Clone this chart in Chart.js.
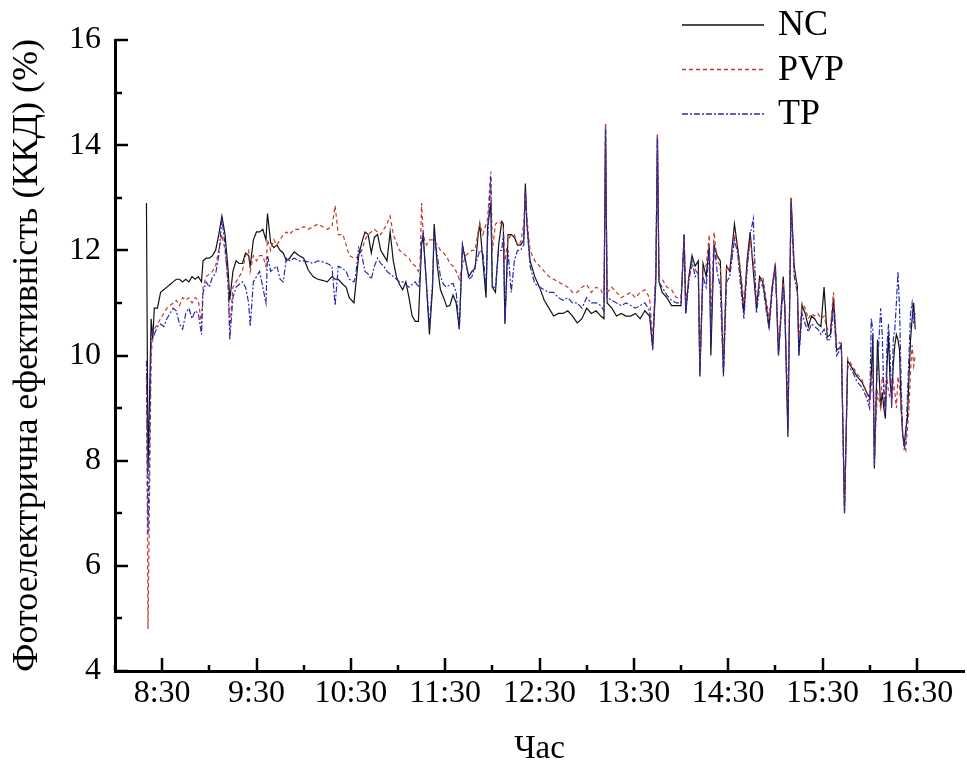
<!DOCTYPE html>
<html>
<head>
<meta charset="utf-8">
<script src="https://cdn.jsdelivr.net/npm/chart.js@4.4.1/dist/chart.umd.min.js"></script>
<style>
  html, body { margin: 0; padding: 0; background: #fff; }
</style>
</head>
<body>
<canvas id="chart" width="967" height="775"></canvas>
<script>
// measurement times (hh:mm)
const times = [
  '8:20','8:21','8:23','8:24','8:25','8:27','8:29','8:31','8:33','8:35','8:37','8:39','8:41','8:43','8:45','8:47','8:49','8:51','8:53','8:55','8:56','8:58',
  '9:00','9:02','9:04','9:06','9:08','9:10','9:12','9:13','9:15','9:17','9:19','9:21','9:23','9:25','9:26','9:28','9:30','9:32','9:34','9:36','9:37','9:39','9:41','9:43','9:45','9:47','9:49','9:51','9:54','9:57',
  '10:00','10:03','10:06','10:09','10:12','10:15','10:18','10:20','10:22','10:25','10:27','10:29','10:32','10:33','10:35','10:37','10:39','10:41','10:43','10:45','10:47','10:49','10:51','10:53','10:55','10:57','10:59',
  '11:01','11:03','11:05','11:07','11:09','11:11','11:13','11:14','11:15','11:16','11:18','11:20','11:22','11:23','11:25','11:27','11:29','11:31','11:33','11:35','11:37','11:39','11:41','11:43','11:45','11:47','11:49','11:51','11:52','11:54','11:56','11:57','11:59','12:00',
  '12:02','12:04','12:06','12:07','12:08','12:10','12:12','12:14','12:16','12:18','12:20','12:21','12:22','12:24','12:27','12:30','12:33','12:36','12:39','12:42','12:45','12:48','12:51','12:54','12:57','13:00',
  '13:03','13:06','13:09','13:11','13:12','13:13','13:16','13:19','13:22','13:25','13:28','13:31','13:34','13:37','13:40','13:42','13:44','13:45','13:46','13:48','13:51','13:54','13:57','14:00',
  '14:02','14:03','14:05','14:07','14:09','14:11','14:12','14:14','14:16','14:18','14:19','14:21','14:23','14:25','14:27','14:29','14:31','14:34','14:36','14:38','14:40','14:42','14:44','14:46','14:48','14:50','14:52','14:54','14:56','14:58','15:00',
  '15:02','15:05','15:06','15:08','15:10','15:12','15:14','15:15','15:17','15:19','15:21','15:23','15:25','15:27','15:29','15:31','15:33','15:35','15:37','15:39','15:41','15:42','15:44','15:46','15:49','15:52','15:55','15:58','16:00','16:01',
  '16:02','16:03','16:04','16:05','16:07','16:08','16:09','16:10','16:11','16:12','16:13','16:14','16:15','16:16','16:17','16:18','16:19','16:20','16:21','16:22','16:23','16:24','16:25','16:26','16:27','16:28','16:29'
];

const nc = [
  12.9,7.8,10.7,10.3,10.9,10.9,11.2,11.25,11.3,11.35,11.4,11.45,11.45,11.4,11.45,11.4,11.5,11.45,11.5,11.4,11.8,11.85,
  11.85,11.9,12.0,12.3,12.65,12.3,11.6,11.05,11.6,11.8,11.75,11.75,11.95,11.9,11.7,12.2,12.35,12.35,12.4,12.2,12.7,12.15,12.05,12.1,12.0,11.95,11.8,11.85,11.97,11.9,
  11.85,11.62,11.5,11.45,11.43,11.4,11.5,11.45,11.45,11.35,11.3,11.1,11.0,11.3,11.9,12.15,12.35,12.3,11.95,12.25,12.3,12.0,11.9,11.8,12.35,11.8,11.5,
  11.35,11.25,11.4,11.1,10.75,10.65,10.65,11.4,12.1,12.3,11.4,10.4,11.3,12.5,11.7,11.25,11.1,10.93,10.95,11.15,11.0,10.5,12.1,11.8,11.5,11.6,11.65,12.3,12.5,11.8,11.1,12.45,12.9,11.3,
  11.2,12.1,12.55,12.5,10.6,12.3,12.3,12.25,12.1,12.1,12.2,13.27,12.5,11.8,11.5,11.3,11.05,10.9,10.75,10.8,10.8,10.85,10.75,10.62,10.7,10.9,
  10.8,10.85,10.75,10.7,14.4,11.0,10.9,10.75,10.8,10.75,10.75,10.8,10.7,10.85,10.75,10.15,11.4,14.2,11.4,11.2,11.1,10.95,10.95,10.95,
  12.3,10.8,11.5,11.9,11.7,11.8,9.6,11.75,11.5,12.1,10.0,12.1,11.9,11.8,9.65,11.7,11.6,12.5,12.05,11.5,10.8,11.8,12.35,11.6,10.9,11.5,11.4,11.0,10.55,11.3,11.75,
  10.0,11.5,10.95,8.45,13.0,11.7,11.3,10.0,10.95,10.8,10.55,10.75,10.7,10.6,10.55,11.3,10.35,10.4,11.1,10.1,10.15,10.2,7.0,9.9,9.75,9.6,9.5,9.3,9.2,9.6,
  10.4,7.85,9.0,10.3,9.0,9.3,9.0,8.8,9.8,10.4,9.5,9.2,9.8,10.2,10.4,10.3,10.1,9.0,8.5,8.3,8.6,8.8,9.6,10.3,10.7,11.0,10.5
];

const pvp = [
  9.6,4.8,10.0,10.4,10.5,10.6,10.7,10.8,10.9,10.95,11.0,11.05,10.95,11.1,11.05,11.1,11.0,11.1,11.05,10.6,11.3,11.5,
  11.55,11.6,11.7,12.0,12.3,12.0,11.4,10.5,11.3,11.4,11.5,11.6,11.9,12.0,11.6,11.9,11.8,11.9,11.9,11.7,12.2,12.0,12.2,12.1,12.2,12.3,12.35,12.3,12.4,12.4,
  12.45,12.4,12.45,12.5,12.45,12.4,12.45,12.85,12.3,12.3,12.1,11.9,11.85,11.85,11.9,12.0,12.2,12.3,12.35,12.4,12.35,12.3,12.4,12.5,12.65,12.3,12.15,
  12.0,11.95,11.9,11.85,11.75,11.7,11.6,11.7,12.9,12.3,12.1,12.2,12.2,12.2,12.1,12.0,11.95,11.88,11.75,11.7,11.6,11.45,11.7,11.9,11.95,12.0,12.0,12.35,12.5,12.3,12.5,12.6,13.5,12.0,
  12.5,12.55,12.5,12.45,11.8,12.2,12.3,12.3,12.1,12.15,12.5,13.1,12.6,12.0,11.8,11.7,11.6,11.5,11.45,11.4,11.35,11.3,11.2,11.2,11.3,11.35,
  11.2,11.3,11.25,11.1,14.4,11.2,11.3,11.2,11.1,11.15,11.2,11.1,11.2,11.25,11.1,10.3,11.6,14.2,11.5,11.45,11.3,11.25,11.1,11.1,
  12.25,11.0,11.5,11.7,11.65,11.5,9.7,11.7,11.7,12.3,10.6,12.35,11.8,11.7,9.9,11.7,11.6,12.3,12.1,11.6,11.0,11.7,12.2,11.8,11.0,11.4,11.5,11.1,10.7,11.35,11.7,
  10.2,11.4,11.0,9.0,13.0,11.6,11.3,10.3,11.0,10.9,10.7,10.8,10.75,10.8,10.7,10.75,10.5,10.5,11.2,10.2,10.25,10.2,7.1,9.95,9.8,9.65,9.55,9.3,9.1,9.4,
  9.8,8.0,8.8,9.3,9.0,9.6,9.5,8.9,9.6,9.3,9.2,9.1,9.5,9.3,9.0,9.6,9.4,9.0,8.5,8.3,8.2,8.6,9.0,9.7,10.2,9.8,10.0
];

const tp = [
  9.9,6.6,10.3,10.5,10.4,10.55,10.6,10.55,10.7,10.8,10.9,10.85,10.6,10.5,10.8,10.9,10.7,10.85,10.8,10.4,11.2,11.4,
  11.3,11.5,11.55,11.9,12.6,12.1,11.3,10.3,11.1,11.3,11.35,11.4,11.3,11.0,10.55,11.4,11.5,11.6,11.3,11.0,11.9,11.6,11.65,11.7,11.45,11.4,11.85,11.8,11.85,11.8,
  11.8,11.78,11.75,11.8,11.78,11.75,11.7,10.95,11.7,11.65,11.6,11.45,11.4,11.5,12.05,11.9,11.6,11.55,11.45,11.7,11.85,11.75,11.7,11.6,11.55,11.5,11.45,
  11.4,11.4,11.35,11.3,11.35,11.4,11.3,11.5,12.2,12.3,11.4,10.55,11.4,12.25,11.9,11.5,11.35,11.3,11.35,11.37,11.2,10.5,12.1,11.8,11.45,11.5,11.7,11.9,12.0,11.95,11.3,12.2,13.4,11.3,
  11.3,12.0,12.0,12.3,10.65,12.0,11.2,11.8,12.0,12.0,12.1,13.15,12.5,11.7,11.37,11.3,11.25,11.2,11.2,11.1,11.05,11.1,11.0,11.0,10.9,11.1,
  11.0,11.0,10.95,10.85,14.3,11.1,11.05,11.0,10.95,11.0,10.95,10.9,10.95,11.0,10.85,10.1,11.6,14.15,11.4,11.3,11.15,11.05,11.0,11.0,
  12.3,10.8,11.4,11.8,11.5,11.6,9.65,11.5,11.3,12.0,10.3,12.1,11.6,11.3,9.6,11.4,11.5,12.2,11.95,11.3,10.7,11.6,12.3,12.6,10.8,11.3,11.35,10.9,10.5,11.2,11.7,
  10.0,11.3,10.9,8.6,12.9,11.5,11.2,10.0,10.8,10.6,10.45,10.6,10.55,10.5,10.4,10.5,10.3,10.3,10.9,10.0,10.1,10.2,7.0,9.8,9.7,9.5,9.4,9.2,9.0,10.7,
  10.5,7.9,9.2,9.8,10.9,10.4,9.3,8.9,10.2,10.6,10.0,9.0,10.3,10.5,11.0,11.6,10.9,9.5,8.5,8.2,8.4,9.2,10.0,10.8,11.0,10.6,10.8
];

const xTickLabels = ['8:30','9:30','10:30','11:30','12:30','13:30','14:30','15:30','16:30'];
const yTickLabels = [4, 6, 8, 10, 12, 14, 16];

function toHours(t) {
  const [h, m] = t.split(':').map(Number);
  return h + m / 60;
}
const hours = times.map(toHours);
const xTickValues = xTickLabels.map(toHours);

function series(values) {
  return values.map((v, i) => ({ x: hours[i], y: v }));
}

const serif = '"Liberation Serif", "Times New Roman", serif';

// ticks pointing into the plot, long for labelled ones, short for the rest
const innerTicks = {
  id: 'innerTicks',
  afterDraw(chart) {
    const ctx = chart.ctx;
    const area = chart.chartArea;
    const xs = chart.scales.x;
    const ys = chart.scales.y;
    ctx.save();
    ctx.strokeStyle = '#000';
    ctx.lineWidth = 2.5;
    xs.ticks.forEach(t => {
      if (t.value >= xs.max) return;
      const px = Math.round(xs.getPixelForValue(t.value));
      const len = t.label ? 13 : 6;
      ctx.beginPath();
      ctx.moveTo(px, area.bottom);
      ctx.lineTo(px, area.bottom - len);
      ctx.stroke();
    });
    ys.ticks.forEach(t => {
      const py = Math.round(ys.getPixelForValue(t.value));
      const len = t.label ? 13 : 7;
      ctx.beginPath();
      ctx.moveTo(area.left, py);
      ctx.lineTo(area.left + len, py);
      ctx.stroke();
    });
    ctx.restore();
  }
};

// legend: line sample + name, top right
const lineLegend = {
  id: 'lineLegend',
  afterDraw(chart) {
    const ctx = chart.ctx;
    chart.data.datasets.forEach((ds, i) => {
      const y = 25 + i * 44.5;
      ctx.save();
      ctx.strokeStyle = ds.borderColor;
      ctx.lineWidth = 1.5;
      ctx.setLineDash(ds.borderDash || []);
      ctx.beginPath();
      ctx.moveTo(682, y);
      ctx.lineTo(764, y);
      ctx.stroke();
      ctx.setLineDash([]);
      ctx.fillStyle = '#000';
      ctx.font = '36px ' + serif;
      ctx.textBaseline = 'middle';
      ctx.fillText(ds.label, 778, y + 1);
      ctx.restore();
    });
  }
};

new Chart(document.getElementById('chart'), {
  type: 'line',
  data: {
    datasets: [
      { label: 'NC', data: series(nc), borderColor: '#111111', borderWidth: 1.2, order: 3 },
      { label: 'PVP', data: series(pvp), borderColor: '#c0392f', borderWidth: 1.2, borderDash: [4, 3], order: 2 },
      { label: 'TP', data: series(tp), borderColor: '#2b2bb0', borderWidth: 1.2, borderDash: [6, 2, 2, 2], order: 1 }
    ]
  },
  options: {
    responsive: false,
    animation: false,
    layout: { padding: { top: 40, right: 1, left: 0, bottom: 0 } },
    elements: { point: { radius: 0 }, line: { tension: 0 } },
    plugins: { legend: { display: false }, tooltip: { enabled: false } },
    scales: {
      x: {
        type: 'linear',
        min: 8,
        max: 17,
        afterFit: s => { s.height = 104; },
        grid: { display: false, drawTicks: false },
        border: { display: true, color: '#000', width: 3 },
        ticks: {
          stepSize: 0.5,
          autoSkip: false,
          maxRotation: 0,
          padding: 3,
          color: '#000',
          font: { family: serif, size: 32 },
          callback: v => {
            const i = xTickValues.findIndex(t => Math.abs(t - v) < 1e-6);
            return i >= 0 ? xTickLabels[i] : '';
          }
        },
        title: { display: true, text: 'Час', color: '#000', font: { family: serif, size: 33 }, padding: { top: 0, bottom: 6 } }
      },
      y: {
        min: 4,
        max: 16,
        afterFit: s => { s.width = 115; },
        grid: { display: false, drawTicks: false },
        border: { display: true, color: '#000', width: 3 },
        ticks: {
          stepSize: 1,
          padding: 14,
          color: '#000',
          font: { family: serif, size: 32 },
          callback: v => yTickLabels.includes(v) ? String(v) : ''
        },
        title: { display: true, text: 'Фотоелектрична ефективність (ККД) (%)', color: '#000', font: { family: serif, size: 36 }, padding: { top: 6, bottom: 0 } }
      }
    }
  },
  plugins: [innerTicks, lineLegend]
});
</script>
</body>
</html>
